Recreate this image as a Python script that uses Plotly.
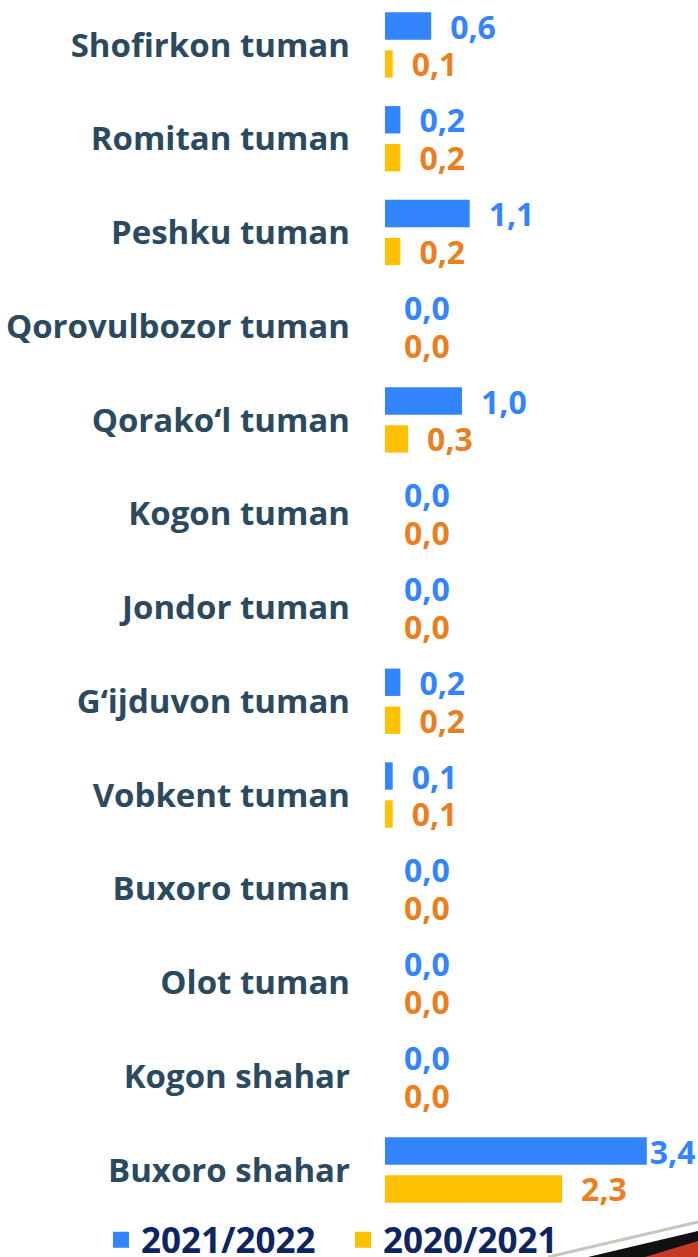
import plotly.graph_objects as go

# categories top -> bottom
districts = [
    "Shofirkon tuman", "Romitan tuman", "Peshku tuman", "Qorovulbozor tuman",
    "Qorako‘l tuman", "Kogon tuman", "Jondor tuman", "G‘ijduvon tuman",
    "Vobkent tuman", "Buxoro tuman", "Olot tuman", "Kogon shahar", "Buxoro shahar",
]
vals_2021_2022 = [0.6, 0.2, 1.1, 0.0, 1.0, 0.0, 0.0, 0.2, 0.1, 0.0, 0.0, 0.0, 3.4]
vals_2020_2021 = [0.1, 0.2, 0.2, 0.0, 0.3, 0.0, 0.0, 0.2, 0.1, 0.0, 0.0, 0.0, 2.3]
series_names = ["2021/2022", "2020/2021"]

BLUE = "#3284FF"
YELLOW = "#FFC000"
ORANGE = "#E97F1F"
LABEL = "#2B4A60"
NAVY = "#0E2560"
FONT = "Open Sans"

W, H = 698, 1257
ML, MR, MT, MB = 385, 0, 0, 42
PX_PER_UNIT = 77
VMAX = max(vals_2021_2022 + vals_2020_2021)


def fmt(v):
    # en-space pushes the label off the bar end; the longest bar has no room for it
    s = f"{v:.1f}".replace(".", ",")
    return s if v == VMAX else "\u2002" + s


def px(x, y):
    """page pixels -> paper coords (for the slide decoration only)"""
    return (x - ML) / (W - ML - MR), (H - MB - y) / (H - MT - MB)


fig = go.Figure()
for name, vals, col, tcol in [
    (series_names[0], vals_2021_2022, BLUE, BLUE),
    (series_names[1], vals_2020_2021, YELLOW, ORANGE),
]:
    fig.add_trace(go.Bar(
        y=districts, x=vals, orientation="h", name=name,
        marker=dict(color=col, line=dict(width=0)),
        text=[fmt(v) for v in vals], textposition="outside",
        textfont=dict(family=FONT, size=32, color=tcol, weight="bold"),
        constraintext="none", cliponaxis=False, showlegend=False,
    ))
    # legend entry with a bigger square
    fig.add_trace(go.Scatter(
        x=[None], y=[None], mode="markers", name=name,
        marker=dict(symbol="square", size=20, color=col),
    ))

# slide decoration, bottom right corner
x0, y0 = px(548, 1257)
x1, y1 = px(698, 1222)
fig.add_shape(type="line", xref="paper", yref="paper", x0=x0, y0=y0, x1=x1, y1=y1,
              line=dict(color="#C9C5BB", width=3))
a, b, c = px(588, 1257), px(698, 1231), px(698, 1257)
fig.add_shape(type="path", xref="paper", yref="paper",
              path=f"M {a[0]} {a[1]} L {b[0]} {b[1]} L {c[0]} {c[1]} Z",
              fillcolor="#111111", line=dict(width=0))
a, b, c = px(645, 1257), px(698, 1241), px(698, 1257)
fig.add_shape(type="path", xref="paper", yref="paper",
              path=f"M {a[0]} {a[1]} L {b[0]} {b[1]} L {c[0]} {c[1]} Z",
              fillcolor="#C63A22", line=dict(width=0))

lx, ly = px(101, 1240)
fig.update_layout(
    width=W, height=H,
    margin=dict(l=ML, r=MR, t=MT, b=MB, autoexpand=False),
    paper_bgcolor="white", plot_bgcolor="white",
    barmode="group", bargap=0.19, bargroupgap=0.28,
    xaxis=dict(range=[0, (W - ML - MR) / PX_PER_UNIT], visible=False),
    yaxis=dict(
        range=[12.48, -0.48], showgrid=False, zeroline=False, showline=False,
        ticks="", ticklabelstandoff=34,
        tickfont=dict(family=FONT, size=33, color=LABEL, weight="bold"),
    ),
    legend=dict(
        orientation="h", x=lx, y=ly, xanchor="left", yanchor="middle",
        font=dict(family=FONT, size=35, color=NAVY, weight="bold"),
        bgcolor="rgba(0,0,0,0)", entrywidth=197, entrywidthmode="pixels",
    ),
)

fig.write_html(
    "out.html",
    config={"displayModeBar": False},
    post_script="document.body.style.margin='0';document.body.style.overflow='hidden';",
)
